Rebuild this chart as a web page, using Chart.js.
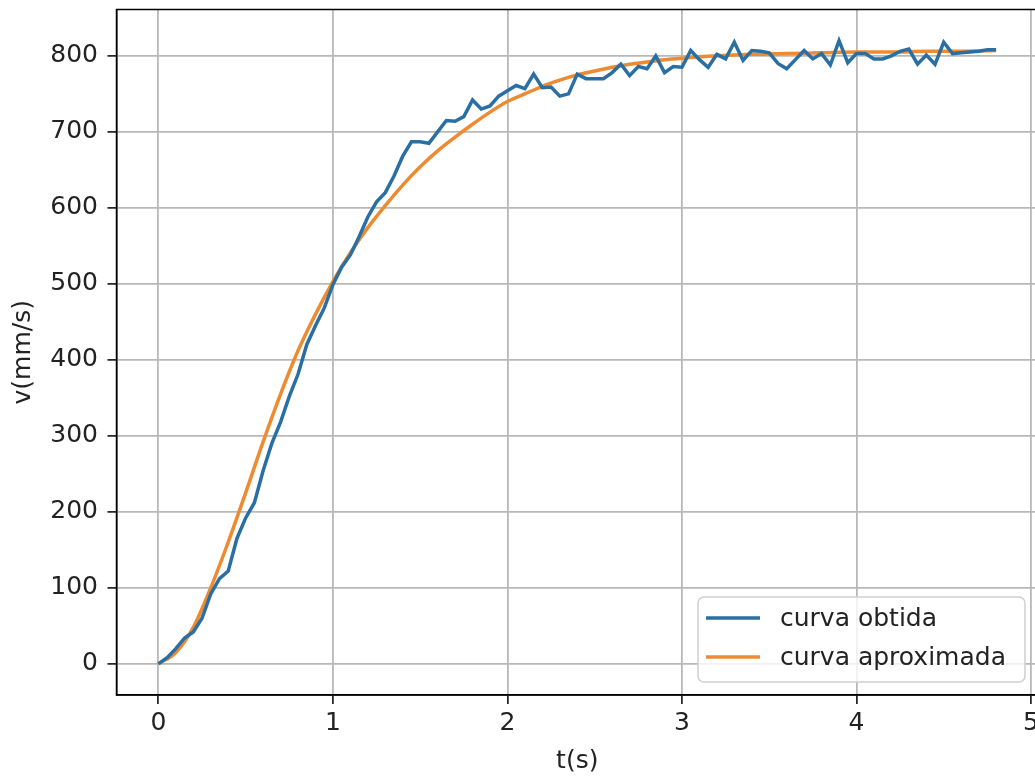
<!DOCTYPE html>
<html>
<head>
<meta charset="utf-8">
<script src="https://cdn.jsdelivr.net/npm/chart.js@4.4.1/dist/chart.umd.min.js"></script>
<style>
  html, body { margin: 0; padding: 0; background: #fff; overflow: hidden; }
  #box { width: 1045px; height: 776px; }
</style>
</head>
<body>
<div id="box"><canvas id="grafico" width="1045" height="776"></canvas></div>
<script>
// curva obtida (medida), t em s, v em mm/s
var tObtida = [
  0, 0.05, 0.1, 0.15, 0.2, 0.25, 0.3, 0.35, 0.4, 0.45,
  0.5, 0.55, 0.6, 0.65, 0.7, 0.75, 0.8, 0.85, 0.9, 0.95,
  1, 1.05, 1.1, 1.15, 1.2, 1.25, 1.3, 1.35, 1.4, 1.45,
  1.5, 1.55, 1.6, 1.65, 1.7, 1.75, 1.8, 1.85, 1.9, 1.95,
  2, 2.05, 2.1, 2.15, 2.2, 2.25, 2.3, 2.35, 2.4, 2.45,
  2.5, 2.55, 2.6, 2.65, 2.7, 2.75, 2.8, 2.85, 2.9, 2.95,
  3, 3.05, 3.1, 3.15, 3.2, 3.25, 3.3, 3.35, 3.4, 3.45,
  3.5, 3.55, 3.6, 3.65, 3.7, 3.75, 3.8, 3.85, 3.9, 3.95,
  4, 4.05, 4.1, 4.15, 4.2, 4.25, 4.3, 4.35, 4.4, 4.45,
  4.5, 4.55, 4.6, 4.65, 4.7, 4.75, 4.8
];
var vObtida = [
  0, 8, 20, 34, 42, 60, 92, 112, 122, 165,
  192, 212, 254, 290, 318, 352, 381, 420, 445, 468,
  499, 522, 538, 562, 588, 608, 620, 642, 668, 687,
  687, 685, 700, 715, 714, 720, 742, 730, 734, 747,
  754, 761, 757, 776, 758, 759, 747, 750, 776, 770,
  770, 770, 778, 789, 774, 786, 783, 800, 778, 786,
  785, 807, 795, 785, 802, 796, 818, 794, 807, 806,
  804, 790, 783, 795, 807, 796, 803, 788, 820, 791,
  803, 803, 796, 796, 800, 806, 809, 789, 801, 789,
  818, 803, 804, 805, 806, 808, 808
];

// curva aproximada
var tAprox = [
  0, 0.1, 0.2, 0.3, 0.4, 0.5, 0.6, 0.7, 0.8, 0.9,
  1, 1.1, 1.2, 1.3, 1.4, 1.5, 1.6, 1.7, 1.8, 1.9,
  2, 2.1, 2.2, 2.3, 2.4, 2.5, 2.6, 2.7, 2.8, 2.9,
  3, 3.2, 3.4, 3.6, 3.8, 4, 4.2, 4.4, 4.6, 4.8
];
var vAprox = [
  0, 15, 48, 100, 160, 225, 292, 355, 412, 460,
  503, 541, 574, 603, 630, 654, 675, 693, 710, 726,
  740, 750, 760, 768, 775, 780, 785, 789, 792, 795,
  797, 800, 802, 803, 804, 805, 805, 806, 806, 807
];

var xTicks = [0, 1, 2, 3, 4, 5];
var yTicks = [0, 100, 200, 300, 400, 500, 600, 700, 800];
var nomes = ['curva obtida', 'curva aproximada'];

function pares(xs, ys) {
  return xs.map(function (x, i) { return { x: x, y: ys[i] }; });
}

var fonte = { family: 'DejaVu Sans', size: 25 };

// caixa da legenda no canto inferior direito (como no matplotlib)
var legendaPlugin = {
  id: 'legenda',
  afterDraw: function (chart) {
    var ctx = chart.ctx;
    var a = chart.chartArea;
    var x0 = 698, y0 = 597, w = 327, h = 85, r = 6;
    ctx.save();
    // moldura do gráfico
    ctx.strokeStyle = '#000';
    ctx.lineWidth = 1.5;
    ctx.strokeRect(a.left, a.top, a.right - a.left, a.bottom - a.top);

    ctx.beginPath();
    ctx.roundRect(x0, y0, w, h, r);
    ctx.fillStyle = 'rgba(255,255,255,0.8)';
    ctx.fill();
    ctx.strokeStyle = '#d0d0d0';
    ctx.lineWidth = 1.5;
    ctx.stroke();

    ctx.font = '25px "DejaVu Sans"';
    ctx.textBaseline = 'middle';
    ctx.textAlign = 'left';
    chart.data.datasets.forEach(function (ds, i) {
      var yy = y0 + 21 + i * 39;
      ctx.beginPath();
      ctx.moveTo(x0 + 8, yy);
      ctx.lineTo(x0 + 62, yy);
      ctx.strokeStyle = ds.borderColor;
      ctx.lineWidth = 3.5;
      ctx.stroke();
      ctx.fillStyle = '#222';
      ctx.fillText(ds.label, x0 + 82, yy + 1);
    });
    ctx.restore();
  }
};

var context = document.getElementById('grafico').getContext('2d');
var myChart = new Chart(context, {
  type: 'line',
  data: {
    datasets: [
      {
        label: nomes[0],
        data: pares(tObtida, vObtida),
        borderColor: '#2a6fa3',
        borderWidth: 3.5,
        pointRadius: 0,
        tension: 0,
        fill: false
      },
      {
        label: nomes[1],
        data: pares(tAprox, vAprox),
        borderColor: '#ee8a30',
        borderWidth: 3.5,
        pointRadius: 0,
        cubicInterpolationMode: 'monotone',
        fill: false
      }
    ]
  },
  options: {
    responsive: false,
    animation: false,
    layout: { padding: { left: 0, top: 9.5, right: 7, bottom: 0 } },
    plugins: {
      legend: { display: false },
      tooltip: { enabled: false }
    },
    scales: {
      x: {
        type: 'linear',
        min: -0.24,
        max: 5.04,
        afterFit: function (s) { s.height = 81; s.paddingLeft = 0; s.paddingRight = 0; },
        afterBuildTicks: function (s) { s.ticks = xTicks.map(function (v) { return { value: v }; }); },
        ticks: { font: fonte, color: '#222', padding: 4, maxRotation: 0 },
        grid: { color: '#b8b8b8', lineWidth: 1.8, tickColor: '#000', tickLength: 9, tickWidth: 1.5 },
        border: { display: true, color: '#000', width: 1.5 },
        title: { display: true, text: 't(s)', font: fonte, color: '#222', padding: { top: 0, bottom: 0 } }
      },
      y: {
        min: -41,
        max: 861,
        afterFit: function (s) { s.width = 116.5; s.paddingTop = 0; s.paddingBottom = 0; },
        afterBuildTicks: function (s) { s.ticks = yTicks.map(function (v) { return { value: v }; }); },
        ticks: { font: fonte, color: '#222', padding: 9.5 },
        grid: { color: '#b8b8b8', lineWidth: 1.8, tickColor: '#000', tickLength: 9, tickWidth: 1.5 },
        border: { display: true, color: '#000', width: 1.5 },
        title: { display: true, text: 'v(mm/s)', font: fonte, color: '#222', padding: { top: 8, bottom: 0 } }
      }
    }
  },
  plugins: [legendaPlugin]
});
</script>
</body>
</html>
